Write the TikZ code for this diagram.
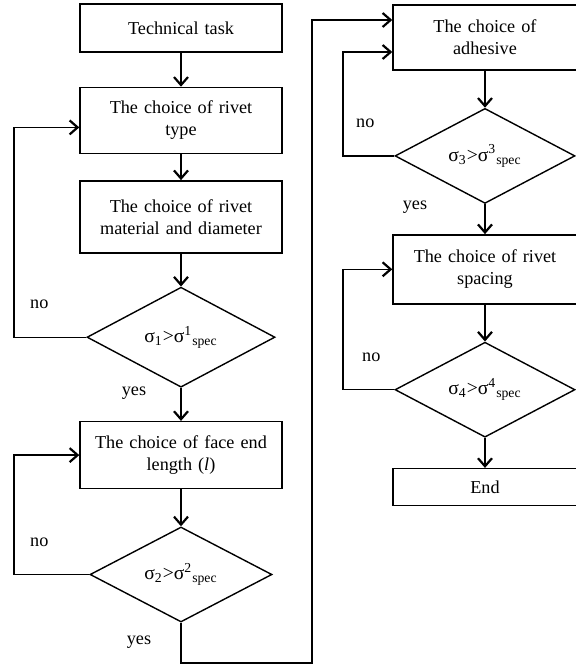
\documentclass[tikz,border=0pt]{standalone}
\usepackage{fontspec}
\setmainfont{Liberation Serif}
\usetikzlibrary{shapes.geometric, arrows.meta, positioning}

\begin{document}
\begin{tikzpicture}[
        block/.style={rectangle, minimum width=101pt, text width=95pt, text centered, draw=black, line width=0.7pt, fill=white, align=center, inner sep=2pt, font=\fontsize{9.1}{11}\selectfont},
        rblock/.style={block, minimum width=92pt, text width=86pt},
        decision/.style={diamond, shape aspect=2, minimum width=91pt, minimum height=47.5pt, inner sep=0pt, draw=black, line width=0.7pt, font=\fontsize{9.8}{10}\selectfont},
        lbl/.style={inner sep=0pt, font=\fontsize{9.1}{11}\selectfont},
        arrow/.style={line width=0.7pt, -{Straight Barb[length=4pt,width=7pt,line width=1.1pt]}}
    ]

        \useasboundingbox (0,0) rectangle (287.5pt,-333pt);

        % Left column
        \node (task) [block, minimum height=24pt] at (90.5pt,-14pt) {Technical task};
        \node (type) [block, minimum height=33pt, below=17pt of task] {The choice of rivet\\type};
        \node (material) [block, minimum height=36pt, below=13pt of type] {The choice of rivet\\material and diameter};
        \node (check1) [decision, minimum width=94pt, minimum height=50pt, below=16.5pt of material] {σ\textsubscript{1}>σ\textsuperscript{1}\textsubscript{spec}};
        \node (face) [block, minimum height=33.5pt, below=16.5pt of check1] {The choice of face end\\length (\textit{l})};
        \node (check2) [decision, below=18.5pt of face] {σ\textsubscript{2}>σ\textsuperscript{2}\textsubscript{spec}};

        % Right column
        \node (adhesive) [rblock, minimum height=32.5pt] at (242.5pt,-18.75pt) {The choice of\\adhesive};
        \node (check3) [decision, minimum width=90pt, below=18.5pt of adhesive] {σ\textsubscript{3}>σ\textsuperscript{3}\textsubscript{spec}};
        \node (spacing) [rblock, minimum height=34.5pt, below=15pt of check3] {The choice of rivet\\spacing};
        \node (check4) [decision, minimum width=90pt, below=18.5pt of spacing] {σ\textsubscript{4}>σ\textsuperscript{4}\textsubscript{spec}};
        \node (finish) [rblock, minimum height=18.5pt, below=15pt of check4] {End};

        % Labels
        \node (no1) [lbl] at ([shift={(-23.5pt,16.5pt)}]check1.west) {no};
        \node (yes1) [lbl] at ([shift={(-23.5pt,-2.5pt)}]check1.south) {yes};
        \node (no2) [lbl] at ([shift={(-25pt,16.25pt)}]check2.west) {no};
        \node (yes2) [lbl] at ([shift={(-21pt,-9.5pt)}]check2.south) {yes};
        \node (no3) [lbl] at ([shift={(-14.5pt,16.25pt)}]check3.west) {no};
        \node (yes3) [lbl] at ([shift={(-35pt,-1.5pt)}]check3.south) {yes};
        \node (no4) [lbl] at ([shift={(-11.5pt,16.25pt)}]check4.west) {no};

        % Loop lines
        \coordinate (lx) at (7pt,0);
        \coordinate (rx) at (171.5pt,0);
        \coordinate (bot) at (156pt,-331.5pt);
        \coordinate (top) at (156pt,-10pt);

        % Arrows down the left column
        \draw [arrow] (task.south) -- (type.north);
        \draw [arrow] (type.south) -- (material.north);
        \draw [arrow] (material.south) -- (check1.north);
        \draw [arrow] (check1.south) -- (face.north);
        \draw [arrow] (face.south) -- (check2.north);

        % Arrows down the right column
        \draw [arrow] (adhesive.south) -- (check3.north);
        \draw [arrow] (check3.south) -- (spacing.north);
        \draw [arrow] (spacing.south) -- (check4.north);
        \draw [arrow] (check4.south) -- (finish.north);

        % Feedback arrows
        \draw [arrow] (check1.west) -- (check1.west -| lx) |- ([yshift=-3.5pt]type.west);
        \draw [arrow] (check2.west) -- (check2.west -| lx) |- (face.west);
        \draw [arrow] (check3.west) -- (check3.west -| rx) |- ([yshift=-7.25pt]adhesive.west);
        \draw [arrow] (check4.west) -- (check4.west -| rx) |- (spacing.west);

        % From the left column to the right column
        \draw [arrow] (check2.south) |- (bot) -- (top) -- (top -| adhesive.west);

    \end{tikzpicture}
\end{document}
